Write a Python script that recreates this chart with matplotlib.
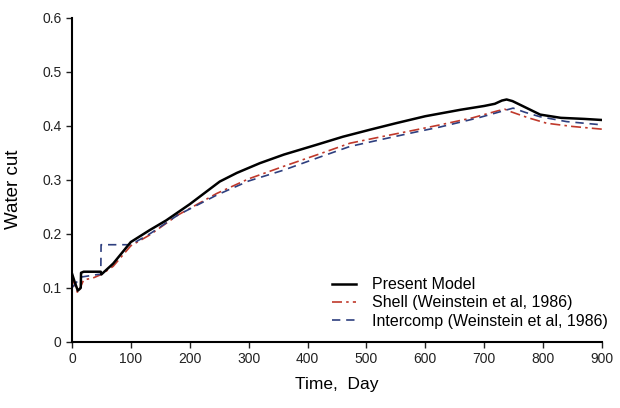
import matplotlib
matplotlib.use("Agg")
import matplotlib.pyplot as plt

plt.rcParams['font.family'] = ['Liberation Sans', 'DejaVu Sans']

# Present model (black)
t_model = [0, 5, 10, 15, 15.5, 20, 49, 50, 55, 70, 100, 132, 160, 200, 251, 280, 319,
           360, 415, 460, 506, 550, 600, 625, 660, 700, 718, 730, 738, 748, 765, 795, 830, 870, 900]
wc_model = [0.127, 0.11, 0.095, 0.10, 0.128, 0.13, 0.13, 0.125, 0.13, 0.145, 0.185, 0.207,
            0.225, 0.255, 0.297, 0.313, 0.331, 0.347, 0.365, 0.38, 0.393, 0.405, 0.418,
            0.423, 0.43, 0.437, 0.441, 0.447, 0.449, 0.446, 0.437, 0.421, 0.415, 0.413, 0.411]

# Shell (red dash-dot)
t_shell = [0, 5, 10, 20, 35, 50, 70, 100, 132, 180, 246, 300, 359, 420, 472, 530, 585,
           625, 680, 723, 735, 746, 775, 806, 850, 900]
wc_shell = [0.12, 0.105, 0.09, 0.115, 0.118, 0.125, 0.14, 0.178, 0.198, 0.235, 0.275, 0.302,
            0.325, 0.348, 0.368, 0.381, 0.393, 0.402, 0.415, 0.428, 0.431, 0.426, 0.415,
            0.405, 0.399, 0.394]

# Intercomp (blue dashed)
t_inter = [0, 15, 45, 49, 49.5, 100, 132, 180, 246, 300, 359, 420, 472, 530, 585, 625,
           690, 749, 770, 795, 840, 890, 900]
wc_inter = [0.1, 0.12, 0.125, 0.125, 0.18, 0.18, 0.2, 0.235, 0.272, 0.298, 0.318, 0.342,
            0.362, 0.376, 0.389, 0.398, 0.415, 0.433, 0.425, 0.417, 0.408, 0.403, 0.402]

fig, ax = plt.subplots(figsize=(6.2, 4.08), dpi=100)
fig.subplots_adjust(left=0.116, right=0.971, bottom=0.162, top=0.956)

ax.plot(t_model, wc_model, color='black', linewidth=1.8, label='Present Model', zorder=3)
ax.plot(t_shell, wc_shell, color='#c0392b', linewidth=1.2, linestyle=(0, (6, 2.5, 1.5, 2.5)),
        label='Shell (Weinstein et al, 1986)')
ax.plot(t_inter, wc_inter, color='#2e3f7f', linewidth=1.2, linestyle=(0, (5, 3.5)),
        label='Intercomp (Weinstein et al, 1986)')

ax.set_xlim(0, 900)
ax.set_ylim(0, 0.6)
ax.set_xticks(range(0, 901, 100))
ax.set_yticks([0, 0.1, 0.2, 0.3, 0.4, 0.5, 0.6])
ax.set_yticklabels(['0', '0.1', '0.2', '0.3', '0.4', '0.5', '0.6'])

for side in ['top', 'right']:
    ax.spines[side].set_visible(False)
for side in ['left', 'bottom']:
    ax.spines[side].set_linewidth(1.5)
ax.tick_params(direction='out', length=4, width=1, labelsize=10, colors='#222222')

ax.set_xlabel('Time,  Day', fontsize=12.5, labelpad=8)
ax.set_ylabel('Water cut', fontsize=13.5)
ax.yaxis.set_label_coords(-0.095, 0.47)

ax.legend(loc='upper left', bbox_to_anchor=(0.49, 0.2), frameon=False, fontsize=11.5,
          handlelength=1.5, labelspacing=0.2, handletextpad=1.0,
          borderpad=0, borderaxespad=0)

fig.savefig('out.png', dpi=100)
